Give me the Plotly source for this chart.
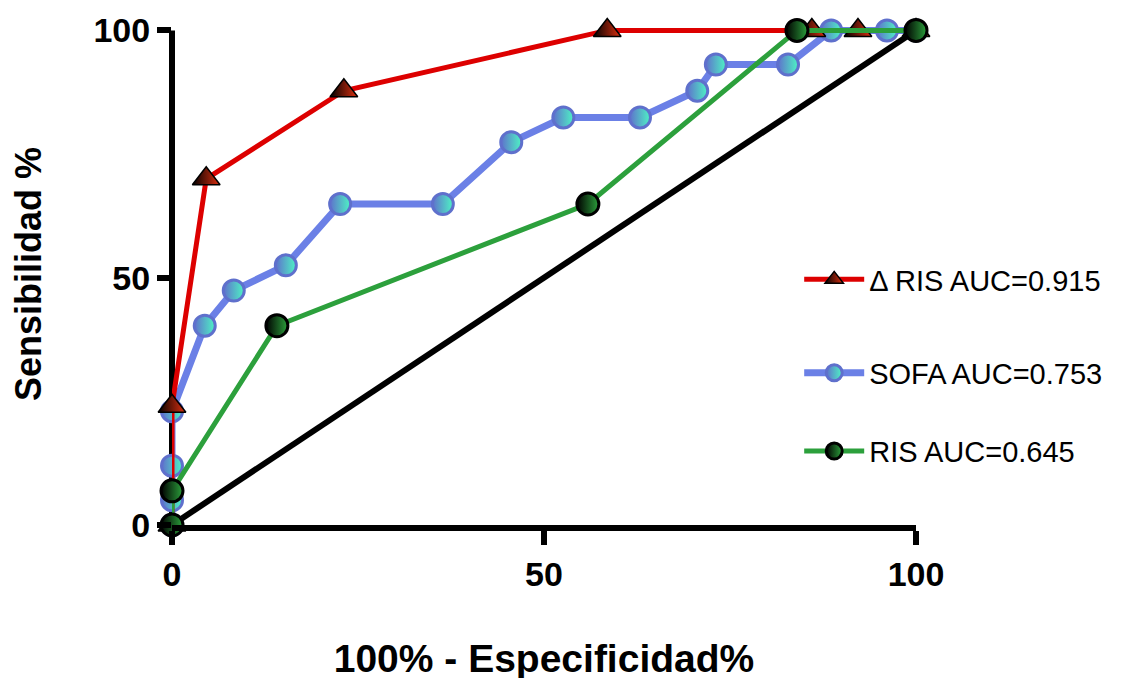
import plotly.graph_objects as go

# ΔRIS
dris_x = [0, 0, 4.6, 23.1, 58.5, 86, 92.2, 100]
dris_y = [0, 24, 70, 87.8, 100, 100, 100, 100]
# SOFA
sofa_x = [0, 0, 0, 0, 4.4, 8.3, 15.3, 22.6, 36.4, 45.6, 52.6, 62.9, 70.6, 73.1, 82.8, 88.6, 96.1, 100]
sofa_y = [0, 5, 12, 23, 40.3, 47.4, 52.5, 64.9, 64.9, 77.4, 82.4, 82.4, 87.8, 93.1, 93.1, 100, 100, 100]
# RIS
ris_x = [0, 0, 14.1, 55.9, 84, 100]
ris_y = [0, 6.9, 40.3, 64.9, 100, 100]
# reference line
ref_x = [0, 100]
ref_y = [0, 100]

names = ["Δ RIS AUC=0.915", "SOFA AUC=0.753", "RIS AUC=0.645"]
tick_vals = [0, 50, 100]
tick_text = ["0", "50", "100"]

font_family = "Liberation Sans, Arial, sans-serif"

fig = go.Figure()
fig.add_trace(go.Scatter(x=ref_x, y=ref_y, mode="lines", line=dict(color="black", width=6),
                         showlegend=False, hoverinfo="skip", cliponaxis=False))
fig.add_trace(go.Scatter(
    x=sofa_x, y=sofa_y, mode="lines+markers", name=names[1], legend="legend2",
    line=dict(color="#6b80e6", width=7),
    marker=dict(symbol="circle", size=21, color="#5f70cc",
                gradient=dict(type="horizontal", color="#4df5c4"),
                line=dict(color="#5f70cc", width=3)),
    cliponaxis=False))
fig.add_trace(go.Scatter(
    x=dris_x, y=dris_y, mode="lines+markers", name=names[0], legend="legend",
    line=dict(color="#dd0000", width=5),
    marker=dict(symbol="triangle-up", size=24, color="#000000",
                gradient=dict(type="horizontal", color="#e03010"),
                line=dict(color="black", width=1.5)),
    cliponaxis=False))
fig.add_trace(go.Scatter(
    x=ris_x, y=ris_y, mode="lines+markers", name=names[2], legend="legend3",
    line=dict(color="#2ca03c", width=5),
    marker=dict(symbol="circle", size=22, color="#000000",
                gradient=dict(type="horizontal", color="#2ca03c"),
                line=dict(color="black", width=3)),
    cliponaxis=False))

axis_common = dict(
    tickvals=tick_vals, ticktext=tick_text, automargin=False,
    linecolor="black", linewidth=6, mirror=False,
    ticks="outside", ticklen=14, tickwidth=6, tickcolor="black",
    showgrid=False, zeroline=False,
    tickfont=dict(family=font_family, size=34, color="black", weight="bold"),
)

fig.update_layout(
    width=1122, height=678,
    margin=dict(l=164, r=214, t=15, b=161),
    plot_bgcolor="white", paper_bgcolor="white",
    xaxis=dict(**axis_common, range=[0, 100], showline=True,
               title=dict(text="100% - Especificidad%", standoff=55,
                          font=dict(family=font_family, size=39, color="black", weight="bold"))),
    yaxis=dict(**axis_common, range=[0, 101.5], showline=False,
               title=dict(text="Sensibilidad %", standoff=45,
                          font=dict(family=font_family, size=36, color="black", weight="bold"))),
    shapes=[dict(type="line", xref="paper", yref="y", x0=0, x1=0, y0=0, y1=100,
                 line=dict(color="black", width=6), layer="below")],
    legend=dict(x=0.843, y=0.489, xanchor="left", yanchor="middle", bgcolor="rgba(0,0,0,0)",
                font=dict(family=font_family, size=29, color="black"), itemwidth=60),
    legend2=dict(x=0.843, y=0.303, xanchor="left", yanchor="middle", bgcolor="rgba(0,0,0,0)",
                 font=dict(family=font_family, size=29, color="black"), itemwidth=60),
    legend3=dict(x=0.843, y=0.147, xanchor="left", yanchor="middle", bgcolor="rgba(0,0,0,0)",
                 font=dict(family=font_family, size=29, color="black"), itemwidth=60),
)

fig.write_html("out.html")
